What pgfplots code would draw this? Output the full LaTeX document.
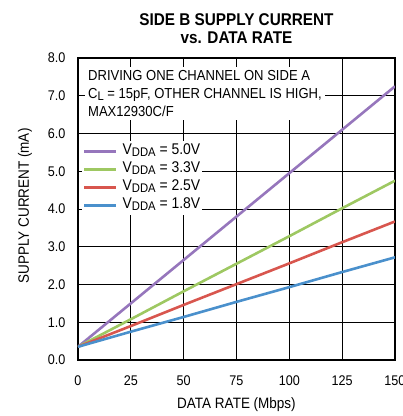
\documentclass[border=0pt]{standalone}
\usepackage{pgfplots}
\pgfplotsset{compat=1.18}
\usepackage{fontspec}
\setmainfont[FakeStretch=0.9]{Liberation Sans}

\definecolor{cpurple}{RGB}{150,118,188}
\definecolor{cgreen}{RGB}{158,200,98}
\definecolor{cred}{RGB}{216,86,78}
\definecolor{cblue}{RGB}{74,144,204}

\newcommand{\sub}[1]{\raisebox{-0.3ex}{\fontsize{12.5}{12}\selectfont #1}}

\begin{document}
\begin{tikzpicture}
  \useasboundingbox (-78pt,-56pt) rectangle (325pt,360pt);
  \begin{axis}[
    scale only axis,
    width=317pt, height=302pt,
    xmin=0, xmax=150, ymin=0, ymax=8,
    xtick={0,25,...,150},
    ytick={0,1,...,8},
    grid=major,
    major grid style={black, line width=0.7pt},
    major tick length=0pt,
    axis line style={line width=1.6pt},
    tick label style={font=\fontsize{14}{14}\selectfont},
    /pgf/number format/assume math mode=true,
    yticklabel style={/pgf/number format/fixed, /pgf/number format/fixed zerofill,
      /pgf/number format/precision=1, anchor=east, xshift=-9pt},
    xticklabel style={anchor=center, yshift=-21pt},
    xlabel={DATA RATE (Mbps)},
    ylabel={SUPPLY CURRENT (mA)},
    label style={font=\fontsize{15}{15}\selectfont},
    xlabel style={at={(axis description cs:0.5,-0.149)}, anchor=center},
    ylabel style={at={(axis description cs:-0.167,0.51)}, anchor=center},
    title={SIDE B SUPPLY CURRENT\\vs. DATA RATE},
    title style={at={(axis description cs:0.5,1)}, anchor=center, yshift=23pt,
      align=center, font=\bfseries\fontsize{17}{18}\selectfont},
    legend cell align=left,
    legend style={font=\fontsize{15.5}{15}\selectfont, fill=white, draw=none,
      at={(axis cs:1.8,5.8)}, anchor=north west, row sep=0pt, inner sep=1pt,
      nodes={inner sep=1pt, text height=11pt, text depth=5pt},
      /tikz/every odd column/.append style={column sep=4pt}},
    legend image code/.code={\draw[#1] (0pt,0pt) -- (32pt,0pt);},
    every axis plot/.append style={line width=2.6pt},
  ]
  \addplot[cpurple] table {
      0 0.35
     25 1.50
     50 2.65
     75 3.80
    100 4.95
    125 6.10
    150 7.25
  };
  \addlegendentry{V\sub{DDA} = 5.0V}
  \addplot[cgreen] table {
      0 0.35
     25 1.08
     50 1.82
     75 2.55
    100 3.28
    125 4.02
    150 4.75
  };
  \addlegendentry{V\sub{DDA} = 3.3V}
  \addplot[cred] table {
      0 0.35
     25 0.90
     50 1.46
     75 2.01
    100 2.56
    125 3.12
    150 3.67
  };
  \addlegendentry{V\sub{DDA} = 2.5V}
  \addplot[cblue] table {
      0 0.35
     25 0.75
     50 1.14
     75 1.54
    100 1.93
    125 2.33
    150 2.72
  };
  \addlegendentry{V\sub{DDA} = 1.8V}

  \node[fill=white, anchor=north west, align=left, inner sep=3pt,
    font=\fontsize{14.5}{18}\selectfont] at (axis cs:3.3,7.76)
    {DRIVING ONE CHANNEL ON SIDE A\\C\sub{L} = 15pF, OTHER CHANNEL IS HIGH,\\MAX12930C/F};
  \node[anchor=south east, inner sep=1pt, font=\fontsize{9}{10}\selectfont]
    at (rel axis cs:1,1) [yshift=2pt] {toc08};
  \end{axis}
\end{tikzpicture}
\end{document}
